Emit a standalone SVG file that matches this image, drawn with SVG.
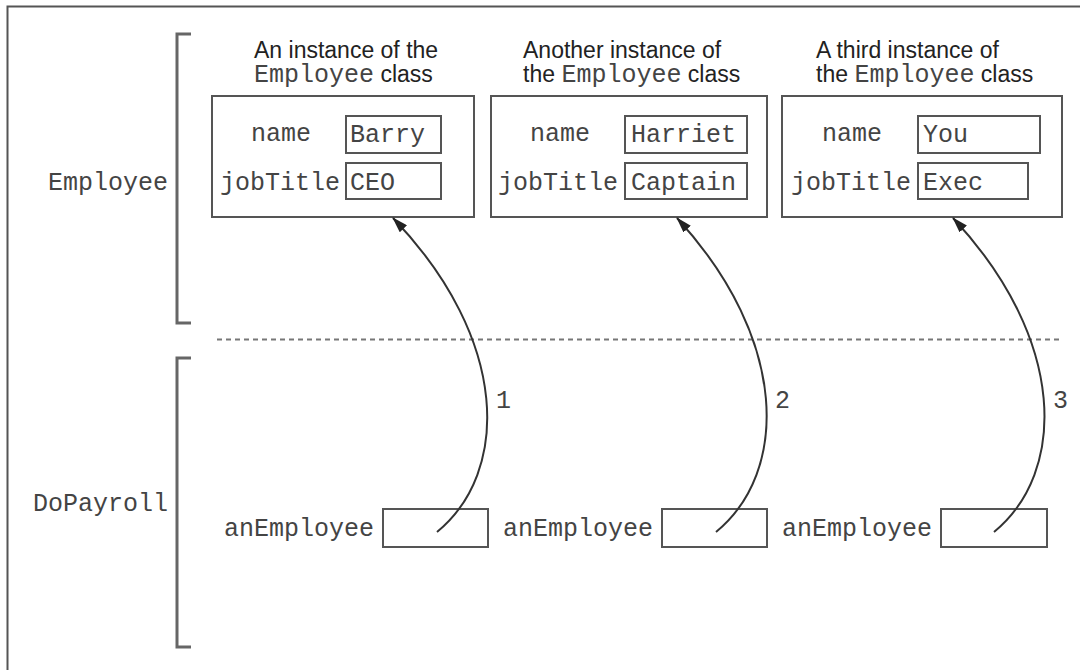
<svg xmlns="http://www.w3.org/2000/svg" width="1080" height="670" viewBox="0 0 1080 670">
<style>
.mono{font-family:"Liberation Mono","Courier New",monospace;font-size:25px;fill:#444}
.sans{font-family:"Liberation Sans",Arial,sans-serif;font-size:23px;fill:#222}
.box{fill:none;stroke:#555;stroke-width:2}
.br{fill:none;stroke:#666;stroke-width:3}
.conn{fill:none;stroke:#333;stroke-width:2}
</style>
<defs>
<marker id="ah" viewBox="0 0 16 10" refX="15" refY="5" markerWidth="16" markerHeight="10" markerUnits="userSpaceOnUse" orient="auto">
<path d="M0,0 L16,5 L0,10 Z" fill="#222"/>
</marker>
</defs>
<rect x="0" y="0" width="1080" height="670" fill="#fff"/>
<g id="frame">
<path d="M7.5,670 V6.5 H1080" fill="none" stroke="#555" stroke-width="2"/>
</g>
<g id="employee-scope">
<path class="br" d="M191,34 H177 V323 H191"/>
<text class="mono" x="48" y="190">Employee</text>
</g>
<g id="dopayroll-scope">
<path class="br" d="M191,358 H177 V647 H191"/>
<text class="mono" x="33" y="511">DoPayroll</text>
</g>
<line id="divider" x1="217" y1="339.5" x2="1062" y2="339.5" stroke="#777" stroke-width="2" stroke-dasharray="5 4"/>
<g id="instance1">
<text class="sans" x="254" y="58">An instance of the</text>
<text class="sans" x="254" y="82"><tspan class="mono">Employee</tspan> class</text>
<rect class="box" x="212" y="96" width="262" height="121"/>
<text class="mono" x="251" y="141">name</text>
<rect class="box" x="346" y="116" width="95" height="37"/>
<text class="mono" x="350" y="142">Barry</text>
<text class="mono" x="340" y="190" text-anchor="end">jobTitle</text>
<rect class="box" x="346" y="163" width="95" height="36"/>
<text class="mono" x="350" y="190">CEO</text>
</g>
<g id="instance2">
<text class="sans" x="523" y="58">Another instance of</text>
<text class="sans" x="523" y="82">the <tspan class="mono">Employee</tspan> class</text>
<rect class="box" x="491" y="96" width="276" height="121"/>
<text class="mono" x="530" y="141">name</text>
<rect class="box" x="625" y="116" width="122" height="37"/>
<text class="mono" x="631" y="142">Harriet</text>
<text class="mono" x="618" y="190" text-anchor="end">jobTitle</text>
<rect class="box" x="625" y="163" width="122" height="36"/>
<text class="mono" x="631" y="190">Captain</text>
</g>
<g id="instance3">
<text class="sans" x="816" y="58">A third instance of</text>
<text class="sans" x="816" y="82">the <tspan class="mono">Employee</tspan> class</text>
<rect class="box" x="782" y="96" width="280" height="121"/>
<text class="mono" x="822" y="141">name</text>
<rect class="box" x="918" y="116" width="122" height="37"/>
<text class="mono" x="923" y="142">You</text>
<text class="mono" x="911" y="190" text-anchor="end">jobTitle</text>
<rect class="box" x="918" y="163" width="110" height="36"/>
<text class="mono" x="923" y="190">Exec</text>
</g>
<g id="ref1">
<text class="mono" x="224" y="536">anEmployee</text>
<rect class="box" x="383" y="509" width="105" height="38"/>
</g>
<g id="ref2">
<text class="mono" x="503" y="536">anEmployee</text>
<rect class="box" x="662" y="509" width="105" height="38"/>
</g>
<g id="ref3">
<text class="mono" x="782" y="536">anEmployee</text>
<rect class="box" x="941" y="509" width="106" height="38"/>
</g>
<g id="connectors">
<path class="conn" marker-end="url(#ah)" d="M437,532 C510,472 510,340 393,218"/>
<path class="conn" marker-end="url(#ah)" d="M716,532 C789,472 789,340 677,218"/>
<path class="conn" marker-end="url(#ah)" d="M994,532 C1067,472 1067,340 953,218"/>
<text class="mono" x="496" y="408">1</text>
<text class="mono" x="775" y="408">2</text>
<text class="mono" x="1053" y="408">3</text>
</g>
</svg>
